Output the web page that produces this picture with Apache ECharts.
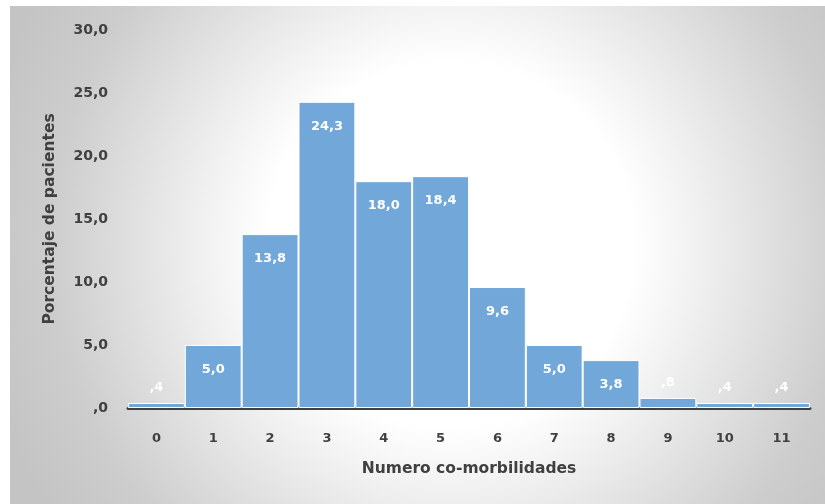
<!DOCTYPE html>
<html>
<head>
<meta charset="utf-8">
<script src="https://cdn.jsdelivr.net/npm/echarts@6/dist/echarts.min.js"></script>
<style>
  html, body { margin: 0; padding: 0; background: #ffffff; }
  #chart { width: 825px; height: 504px; }
</style>
</head>
<body>
<div id="chart"></div>
<script>
// Number of comorbidities per patient (categories) and share of patients (%)
const categories = ['0', '1', '2', '3', '4', '5', '6', '7', '8', '9', '10', '11'];
const percentages = [0.4, 5.0, 13.8, 24.3, 18.0, 18.4, 9.6, 5.0, 3.8, 0.8, 0.4, 0.4];
const yTicks = { min: 0, max: 30, interval: 5 };

// Spanish decimal style: comma separator, leading zero dropped below 1
function fmt(v) {
  const s = v.toFixed(1).replace('.', ',');
  return s.startsWith('0') ? s.slice(1) : s;
}

const chart = echarts.init(document.getElementById('chart'));

const barData = percentages.map(function (v) {
  const small = v < 1;
  return {
    value: v,
    label: {
      position: small ? 'top' : 'insideTop',
      distance: small ? 9 : 18
    }
  };
});

chart.setOption({
  animation: false,
  textStyle: { fontFamily: 'DejaVu Sans' },
  graphic: [{
    type: 'rect',
    z: -10,
    silent: true,
    shape: { x: 10, y: 6, width: 815, height: 498 },
    style: {
      // circular white-to-grey backdrop, in pixel coordinates
      fill: {
        type: 'radial',
        global: true,
        x: 450, y: 245, r: 480,
        colorStops: [
          { offset: 0, color: '#ffffff' },
          { offset: 0.38, color: '#ffffff' },
          { offset: 0.52, color: '#f0f0f0' },
          { offset: 0.83, color: '#cdcdcd' },
          { offset: 1, color: '#c4c4c4' }
        ]
      }
    }
  }],
  grid: { left: 128, right: 15, top: 30, bottom: 96 },
  xAxis: {
    type: 'category',
    data: categories,
    name: 'Numero co-morbilidades',
    nameLocation: 'middle',
    nameGap: 53,
    nameTextStyle: { color: '#404040', fontSize: 15.5, fontWeight: 'bold' },
    axisLine: { lineStyle: { color: '#404040', width: 3 } },
    axisTick: { show: false },
    axisLabel: { color: '#404040', fontSize: 13, fontWeight: 'bold', margin: 24 }
  },
  yAxis: {
    type: 'value',
    min: yTicks.min,
    max: yTicks.max,
    interval: yTicks.interval,
    name: 'Porcentaje de pacientes',
    nameLocation: 'middle',
    nameGap: 70,
    nameTextStyle: { color: '#404040', fontSize: 15.5, fontWeight: 'bold' },
    axisLine: { show: false },
    axisTick: { show: false },
    splitLine: { show: false },
    axisLabel: {
      color: '#404040', fontSize: 14, fontWeight: 'bold', margin: 20,
      formatter: function (v) { return fmt(v); }
    }
  },
  series: [{
    type: 'bar',
    data: barData,
    barCategoryGap: 0,
    itemStyle: { color: '#72a7d9', borderColor: '#ffffff', borderWidth: 1 },
    label: {
      show: true,
      color: '#ffffff',
      fontSize: 13,
      fontWeight: 'bold',
      formatter: function (p) { return fmt(p.value); }
    }
  }]
});
</script>
</body>
</html>
